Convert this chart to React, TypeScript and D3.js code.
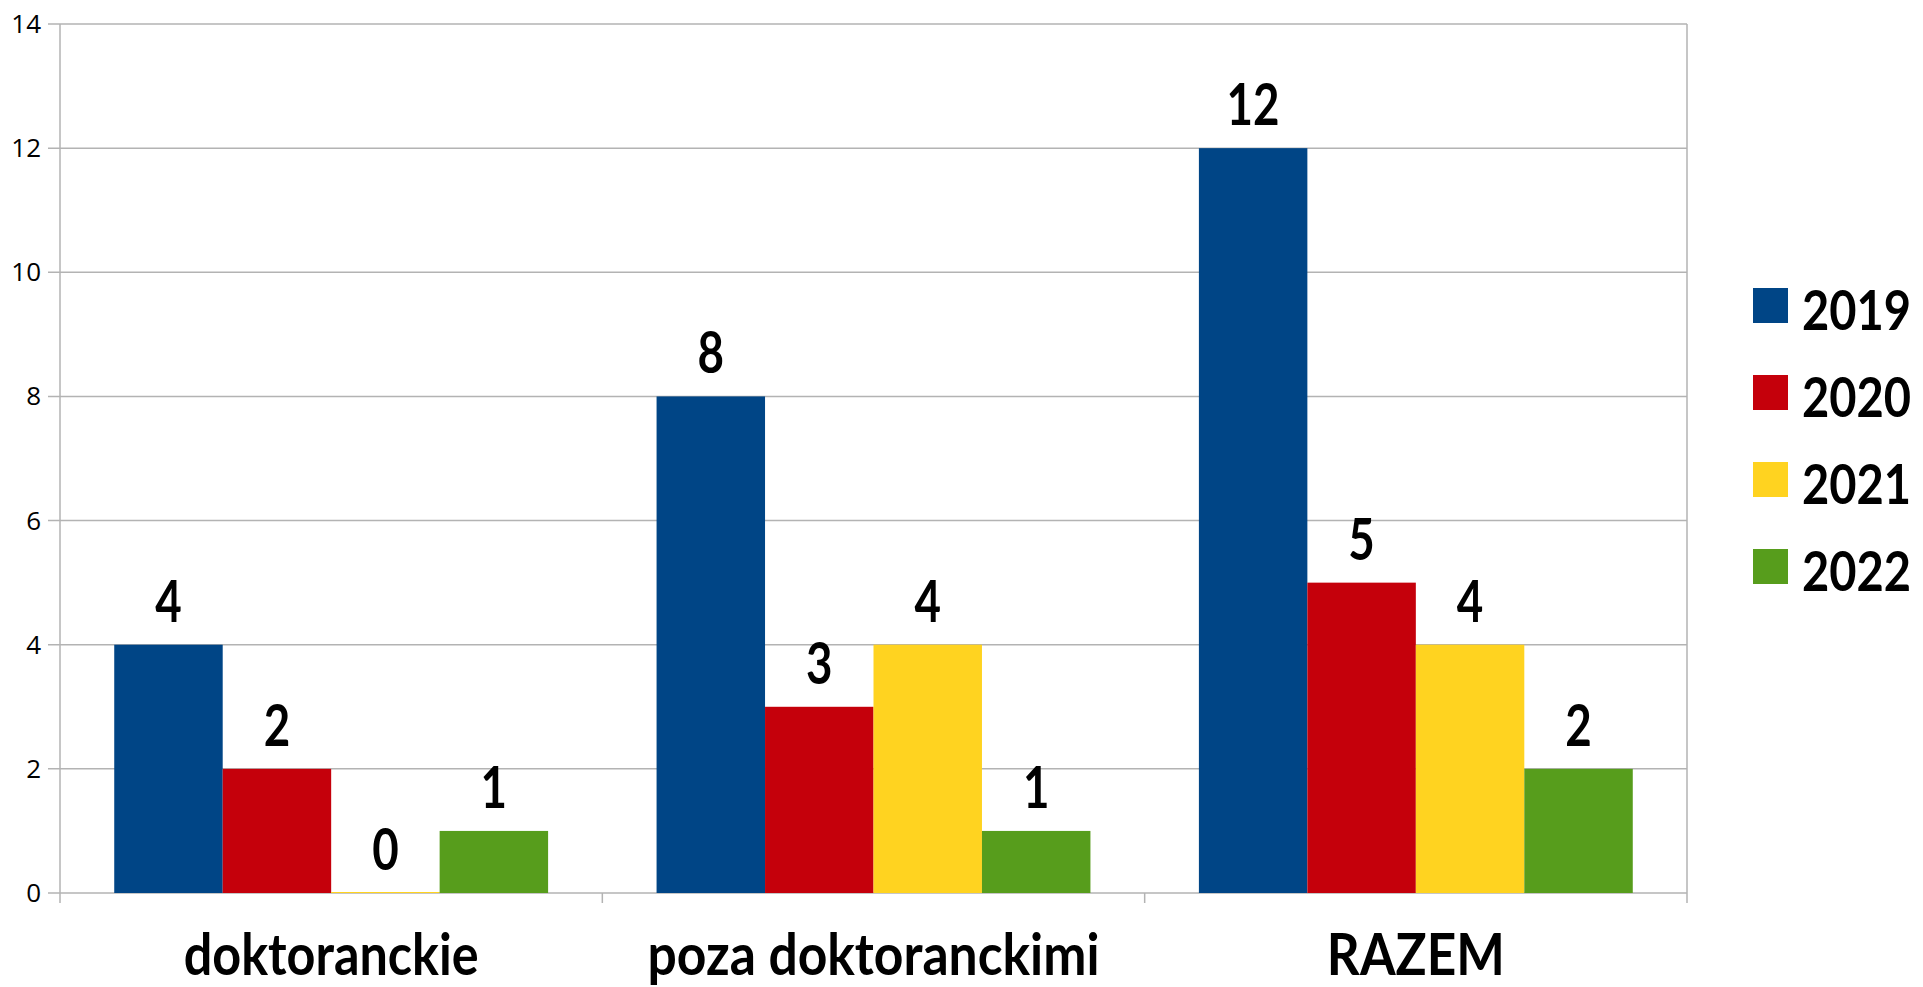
import React from 'react';
import * as d3 from 'd3';

// chart data
const categories = ['doktoranckie', 'poza doktoranckimi', 'RAZEM'];
const years = ['2019', '2020', '2021', '2022'];
const values2019 = [4, 8, 12];
const values2020 = [2, 3, 5];
const values2021 = [0, 4, 4];
const values2022 = [1, 1, 2];
const yTicks = [0, 2, 4, 6, 8, 10, 12, 14];
const colors = ['#004586', '#c5000b', '#ffd320', '#579d1c'];

const series = [values2019, values2020, values2021, values2022];

const WIDTH = 1923;
const HEIGHT = 987;
const M = { left: 60, right: 1687, top: 24, bottom: 893 };

// the original uses a narrow humanist face; squeeze Lato to the measured widths
const labelFont = 'Lato, "Open Sans", sans-serif';
const catWidths = [295, 452, 178];

export default function App() {
  const x0 = d3.scaleBand().domain(categories).range([M.left, M.right]).padding(0);
  const bw = x0.bandwidth();
  const x1 = d3.scaleBand().domain(years).range([bw * 0.1, bw * 0.9]).padding(0);
  const y = d3.scaleLinear().domain([0, 14]).range([M.bottom, M.top]);

  // category boundaries for the x ticks
  const boundaries = categories.map((c) => x0(c) as number).concat([M.right]);

  return (
    <svg
      width={WIDTH}
      height={HEIGHT}
      style={{ position: 'absolute', left: 0, top: 0, background: '#fff' }}
    >
      {/* gridlines */}
      {yTicks.map((t) => (
        <line key={'g' + t} x1={M.left - 12} x2={M.right} y1={y(t)} y2={y(t)} stroke="#b3b3b3" strokeWidth={1.5} />
      ))}
      <line x1={M.left} x2={M.left} y1={M.top} y2={M.bottom + 10} stroke="#b3b3b3" strokeWidth={1.5} />
      <line x1={M.right} x2={M.right} y1={M.top} y2={M.bottom + 10} stroke="#b3b3b3" strokeWidth={1.5} />
      {boundaries.slice(1, -1).map((b, i) => (
        <line key={'b' + i} x1={b} x2={b} y1={M.bottom} y2={M.bottom + 10} stroke="#b3b3b3" strokeWidth={1.5} />
      ))}

      {/* y tick labels */}
      {yTicks.map((t) => (
        <text
          key={'t' + t}
          x={41}
          y={y(t) + 9}
          textAnchor="end"
          fontFamily='"Open Sans", sans-serif'
          fontSize={26}
          fill="#000"
        >
          {t}
        </text>
      ))}

      {/* bars */}
      {categories.map((c, ci) => (
        <g key={c} transform={`translate(${x0(c)},0)`}>
          {years.map((yr, si) => {
            const v = series[si][ci];
            const bx = x1(yr) as number;
            const h = Math.max(y(0) - y(v), 1);
            const label = String(v);
            return (
              <g key={yr}>
                <rect x={bx} y={y(0) - h} width={x1.bandwidth()} height={h} fill={colors[si]} />
                <text
                  x={bx + x1.bandwidth() / 2}
                  y={y(v) - 23}
                  textAnchor="middle"
                  fontFamily={labelFont}
                  fontWeight="bold"
                  fontSize={57}
                  textLength={label.length * 26.5}
                  lengthAdjust="spacingAndGlyphs"
                  fill="#000"
                >
                  {label}
                </text>
              </g>
            );
          })}
        </g>
      ))}

      {/* category labels */}
      {categories.map((c, i) => (
        <text
          key={'c' + c}
          x={(x0(c) as number) + bw / 2}
          y={975}
          textAnchor="middle"
          fontFamily={labelFont}
          fontWeight="bold"
          fontSize={57}
          textLength={catWidths[i]}
          lengthAdjust="spacingAndGlyphs"
          fill="#000"
        >
          {c}
        </text>
      ))}

      {/* legend */}
      {years.map((yr, i) => (
        <g key={'l' + yr} transform={`translate(1753,${288 + i * 87})`}>
          <rect width={35} height={35} fill={colors[i]} />
          <g transform="translate(49,42) scale(0.84,1)">
            <text x={0} y={0} fontFamily={labelFont} fontWeight="bold" fontSize={56} fill="#000">
              {yr}
            </text>
          </g>
        </g>
      ))}
    </svg>
  );
}
